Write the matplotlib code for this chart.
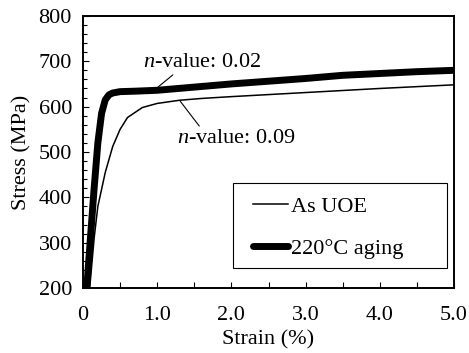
import numpy as np
import matplotlib
matplotlib.use("Agg")
import matplotlib.pyplot as plt
from matplotlib.patches import Rectangle
from matplotlib.ticker import MultipleLocator, FixedLocator

plt.rcParams['font.family'] = ['Liberation Serif', 'DejaVu Serif']
plt.rcParams['mathtext.fontset'] = 'custom'
plt.rcParams['mathtext.rm'] = 'Liberation Serif'
plt.rcParams['mathtext.it'] = 'Liberation Serif:italic'

# ----- data -----
strain_uoe = [0.09, 0.15, 0.20, 0.30, 0.40, 0.50, 0.60, 0.80, 1.0, 1.3, 1.6, 2.0, 3.0, 4.0, 5.0]
stress_uoe = [200, 310, 380, 455, 512, 550, 576, 598, 607, 614, 618, 622, 631, 640, 648]

strain_aged = [0.05, 0.10, 0.15, 0.20, 0.25, 0.30, 0.35, 0.40, 0.50, 0.70, 1.0,
               1.5, 2.0, 2.5, 3.0, 3.5, 4.0, 4.5, 5.0]
stress_aged = [200, 310, 420, 520, 585, 615, 626, 630, 633, 634, 636,
               643, 650, 656, 662, 669, 673, 677, 680]

labels = ['As UOE', '220°C aging']
xticks = [0, 1.0, 2.0, 3.0, 4.0, 5.0]
xticklabels = ['0', '1.0', '2.0', '3.0', '4.0', '5.0']

FS = 16

fig = plt.figure(figsize=(4.69, 3.53), dpi=100)
ax = fig.add_axes([0.177, 0.184, 0.791, 0.771])

ax.plot(strain_uoe, stress_uoe, 'k-', lw=1.1, label=labels[0])
ax.plot(strain_aged, stress_aged, 'k-', lw=5, solid_capstyle='round', label=labels[1])

# n-value notes
ax.annotate(r'$n$-value: 0.02', xy=(1.01, 643), xytext=(0.81, 697),
            fontsize=FS, va='center', ha='left',
            arrowprops=dict(arrowstyle='-', color='k', lw=0.8, shrinkA=0, shrinkB=0,
                            relpos=(0.29, 0.05)))
ax.annotate(r'$n$-value: 0.09', xy=(1.31, 612), xytext=(1.27, 530),
            fontsize=FS, va='center', ha='left',
            arrowprops=dict(arrowstyle='-', color='k', lw=0.8, shrinkA=0, shrinkB=0,
                            relpos=(0.21, 0.95)))

ax.set_xlim(0, 5.0)
ax.set_ylim(200, 800)
ax.xaxis.set_major_locator(FixedLocator(xticks))
ax.set_xticklabels(xticklabels)
ax.xaxis.set_minor_locator(MultipleLocator(0.5))
ax.yaxis.set_major_locator(MultipleLocator(100))
ax.yaxis.set_minor_locator(MultipleLocator(20))
ax.tick_params(which='both', direction='in', labelsize=FS, width=0.8)
ax.tick_params(which='major', length=4)
ax.tick_params(which='minor', length=3)
ax.tick_params(axis='x', which='both', length=4, pad=13)
ax.tick_params(axis='y', which='major', pad=8)
for s in ax.spines.values():
    s.set_linewidth(1.4)

ax.set_xlabel('Strain (%)', fontsize=FS, labelpad=4)
ax.set_ylabel('Stress (MPa)', fontsize=FS, labelpad=5)

# legend box drawn separately, entries placed inside
ax.add_patch(Rectangle((0.404, 0.074), 0.577, 0.312, transform=ax.transAxes,
                       fill=True, facecolor='white', edgecolor='k', lw=0.8, zorder=4))
leg = ax.legend(loc='upper left', bbox_to_anchor=(0.458, 0.336),
                fontsize=FS, handlelength=1.6, handletextpad=0.1,
                labelspacing=0.95, borderpad=0, frameon=False, borderaxespad=0)
leg.set_zorder(5)

fig.savefig('out.png', dpi=100)
